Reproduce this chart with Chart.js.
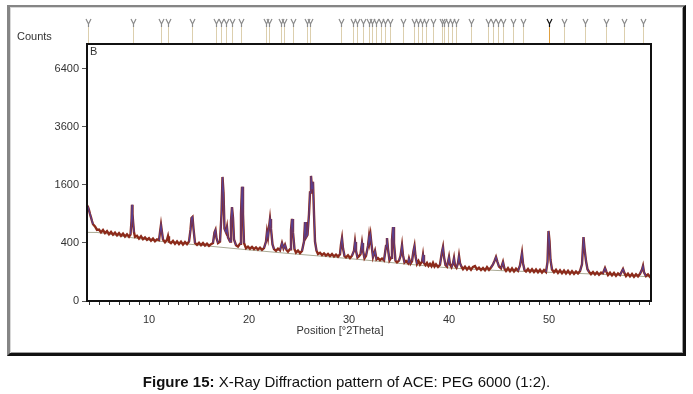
<!DOCTYPE html>
<html>
<head>
<meta charset="utf-8">
<script src="https://cdn.jsdelivr.net/npm/chart.js@4.4.1/dist/chart.umd.min.js"></script>
<style>
  body { margin: 0; background: #fff; font-family: "Liberation Sans", Arial, sans-serif; }
  #wrap { position: relative; width: 693px; height: 394px; overflow: hidden; }
  #frame { position: absolute; left: 7px; top: 5px; width: 673px; height: 346px;
    border-style: solid; border-width: 2px 3px 3px 3px;
    border-color: #858585 #111 #111 #858585;
    box-shadow: inset 1px 1px 0 #d8d8d8, inset -1px -1px 0 #a0a0a0; }
  canvas { position: absolute; left: 0; top: 0; }
  .lbl { position: absolute; font-size: 11px; line-height: 11px; color: #333; white-space: nowrap; }
  #caption { position: absolute; left: 0; top: 374px; width: 693px; text-align: center;
    font-size: 15px; line-height: 15px; color: #111; }
</style>
</head>
<body>
<div id="wrap">
  <div id="frame"></div>
  <canvas id="xrd" width="693" height="394"></canvas>
  <div class="lbl" style="left:17px; top:31px;">Counts</div>
  <div class="lbl" style="left:90px; top:46px;">B</div>
  <div class="lbl" style="left:240px; top:325px; width:200px; text-align:center;">Position [°2Theta]</div>
  <div id="caption"><b>Figure 15:</b> X-Ray Diffraction pattern of ACE: PEG 6000 (1:2).</div>
</div>
<script>
// axis ticks
const yTicks = [0, 400, 1600, 3600, 6400];
const xLabels = [10, 20, 30, 40, 50];

// reference peak positions (°2Theta) shown as markers above the plot
const peakMarks = [3.9, 8.4, 11.2, 11.9, 14.3, 16.7, 17.2, 17.7, 18.3, 19.2, 21.7, 22.0,
  23.2, 23.5, 24.4, 25.8, 26.1, 29.2, 30.4, 30.8, 31.4, 32.0, 32.3, 32.7, 33.2, 33.6,
  34.1, 35.4, 36.5, 36.9, 37.3, 37.7, 38.4, 39.3, 39.5, 39.9, 40.3, 40.7, 42.2, 43.9,
  44.4, 44.9, 45.4, 46.4, 47.4, 50.0, 51.5, 53.6, 55.7, 57.5, 59.4];
const darkMark = 50.0;

// measured pattern [2theta, counts]
const observed = [
  [3.8,1090],[3.9,1050],[4.0,980],[4.1,900],[4.2,830],[4.3,760],[4.4,700],[4.6,660],[4.8,600],
  [5.0,605],[5.2,560],[5.4,598],[5.6,548],[5.8,580],[6.0,530],[6.2,566],[6.4,522],[6.6,556],
  [6.8,512],[7.0,548],[7.2,505],[7.4,540],[7.6,495],[7.8,530],[8.0,492],[8.15,525],[8.25,760],
  [8.3,1100],[8.35,900],[8.42,720],[8.5,560],[8.6,490],[8.8,505],[9.0,462],[9.2,498],[9.4,455],
  [9.6,480],[9.8,446],[10.0,470],[10.2,432],[10.4,462],[10.6,425],[10.8,450],[11.0,440],
  [11.1,560],[11.2,690],[11.3,560],[11.4,450],[11.6,410],[11.8,446],[11.9,500],[12.0,420],
  [12.2,398],[12.4,428],[12.6,390],[12.8,422],[13.0,385],[13.2,418],[13.4,380],[13.6,412],
  [13.8,384],[14.0,420],[14.15,600],[14.25,820],[14.35,840],[14.45,620],[14.6,400],[14.8,375],
  [15.0,402],[15.2,370],[15.4,398],[15.6,366],[15.8,390],[16.0,362],[16.2,384],[16.4,400],
  [16.55,560],[16.65,600],[16.75,470],[16.9,400],[17.1,420],[17.25,900],[17.35,1830],[17.45,1400],
  [17.55,620],[17.7,560],[17.8,650],[17.9,480],[18.1,420],[18.2,760],[18.3,1050],[18.4,820],
  [18.5,450],[18.7,370],[18.9,352],[19.1,390],[19.2,900],[19.3,1550],[19.4,900],[19.5,400],
  [19.7,330],[19.9,352],[20.1,325],[20.3,348],[20.5,320],[20.7,342],[20.9,315],[21.1,338],
  [21.3,312],[21.5,332],[21.7,420],[21.8,570],[21.9,480],[22.0,640],[22.1,800],[22.2,620],
  [22.35,380],[22.5,320],[22.7,300],[22.9,326],[23.1,305],[23.3,400],[23.45,330],[23.6,375],
  [23.75,310],[23.9,290],[24.1,318],[24.2,600],[24.3,800],[24.4,560],[24.55,320],[24.7,278],
  [24.9,302],[25.1,272],[25.3,298],[25.5,420],[25.6,740],[25.7,480],[25.85,520],[26.0,900],
  [26.1,1400],[26.2,1860],[26.3,1500],[26.4,1690],[26.5,900],[26.6,420],[26.75,300],[26.9,262],
  [27.1,276],[27.3,250],[27.5,270],[27.7,245],[27.9,264],[28.1,240],[28.3,262],[28.5,236],
  [28.7,256],[28.9,234],[29.1,260],[29.2,380],[29.3,470],[29.4,330],[29.55,240],[29.7,226],
  [29.9,248],[30.1,220],[30.3,244],[30.5,300],[30.6,415],[30.7,300],[30.85,226],[31.0,240],
  [31.15,260],[31.3,400],[31.4,300],[31.55,218],[31.7,244],[31.9,360],[32.0,490],[32.05,420],
  [32.15,520],[32.25,380],[32.4,230],[32.6,300],[32.75,205],[32.9,218],[33.1,198],[33.3,214],
  [33.5,196],[33.7,360],[33.8,470],[33.9,320],[34.05,196],[34.2,222],[34.3,440],[34.4,650],
  [34.5,400],[34.65,192],[34.8,178],[35.0,194],[35.15,240],[35.3,370],[35.4,250],[35.55,176],
  [35.7,190],[35.9,170],[36.0,215],[36.15,166],[36.3,188],[36.45,300],[36.55,360],[36.65,240],
  [36.8,164],[36.95,190],[37.1,158],[37.3,184],[37.4,252],[37.5,170],[37.65,152],[37.8,172],
  [37.95,146],[38.1,164],[38.25,144],[38.4,174],[38.55,142],[38.7,160],[38.9,138],[39.1,156],
  [39.3,290],[39.4,347],[39.5,230],[39.65,152],[39.8,140],[39.9,180],[40.0,230],[40.1,160],
  [40.25,136],[40.4,170],[40.5,220],[40.6,150],[40.75,132],[40.9,170],[41.0,241],[41.1,170],
  [41.25,140],[41.4,120],[41.6,140],[41.8,118],[42.0,136],[42.2,116],[42.4,138],[42.6,145],
  [42.8,118],[43.0,132],[43.2,114],[43.4,130],[43.6,112],[43.8,136],[44.0,116],[44.2,134],
  [44.4,160],[44.55,190],[44.7,230],[44.85,180],[45.0,140],[45.2,126],[45.4,181],[45.55,124],
  [45.7,108],[45.9,128],[46.1,106],[46.3,126],[46.5,104],[46.7,124],[46.9,108],[47.1,150],
  [47.2,205],[47.3,274],[47.4,170],[47.55,114],[47.7,104],[47.9,122],[48.1,102],[48.3,120],
  [48.5,100],[48.7,118],[48.9,98],[49.1,116],[49.3,96],[49.5,114],[49.7,100],[49.85,180],
  [49.95,583],[50.05,430],[50.15,200],[50.3,118],[50.5,98],[50.7,116],[50.9,94],[51.1,112],
  [51.3,92],[51.5,110],[51.7,90],[51.9,108],[52.1,88],[52.3,106],[52.5,88],[52.7,104],
  [52.9,90],[53.1,106],[53.3,160],[53.45,487],[53.55,330],[53.7,190],[53.85,120],[54.0,102],
  [54.2,86],[54.4,100],[54.6,84],[54.8,98],[55.0,82],[55.2,96],[55.4,92],[55.6,129],[55.75,100],
  [55.9,80],[56.1,95],[56.3,78],[56.5,93],[56.7,76],[56.9,91],[57.1,80],[57.4,122],[57.55,92],
  [57.7,74],[57.9,89],[58.1,72],[58.3,87],[58.5,70],[58.7,85],[58.9,72],[59.1,88],[59.3,118],
  [59.4,146],[59.5,98],[59.7,74],[59.9,84],[60.1,70],[60.2,78]
];

// fitted background [2theta, counts]
const background = [
  [3.8,560],[4.8,558],[5.5,545],[7,505],[10,440],[13,398],[16,358],[20,310],[24,268],
  [28,232],[32,196],[36,160],[40,130],[45,110],[50,98],[55,85],[60,70]
];

function bgAt(t) {
  for (let i = 1; i < background.length; i++) {
    const [x0, y0] = background[i - 1], [x1, y1] = background[i];
    if (t <= x1) return y0 + (y1 - y0) * (t - x0) / (x1 - x0);
  }
  return background[background.length - 1][1];
}

// square-root count axis, like the diffractometer software
class SqrtScale extends Chart.LinearScale {
  static id = 'sqrt';
  static defaults = {};
  buildTicks() { return yTicks.map(v => ({ value: v })); }
  getPixelForValue(v) {
    const lo = Math.sqrt(this.min), hi = Math.sqrt(this.max);
    return this.getPixelForDecimal((Math.sqrt(Math.max(v, 0)) - lo) / (hi - lo));
  }
  getValueForPixel(p) {
    const lo = Math.sqrt(this.min), hi = Math.sqrt(this.max);
    const s = lo + this.getDecimalForPixel(p) * (hi - lo);
    return s * s;
  }
}
Chart.register(SqrtScale);

const decor = {
  id: 'decor',
  afterDraw(chart) {
    const { ctx, chartArea: a, scales: { x } } = chart;
    ctx.save();
    // peak markers
    peakMarks.forEach(p => {
      const px = Math.round(x.getPixelForValue(p)) + 0.5;
      const dark = p === darkMark;
      ctx.strokeStyle = dark ? '#e0a040' : '#dccfae';
      ctx.lineWidth = 1;
      ctx.beginPath();
      ctx.moveTo(px, 25);
      ctx.lineTo(px, a.top);
      ctx.stroke();
      ctx.strokeStyle = dark ? '#111' : '#8a8a8a';
      ctx.lineWidth = 1.2;
      ctx.beginPath();
      ctx.moveTo(px - 2.5, 19);
      ctx.lineTo(px, 24);
      ctx.lineTo(px + 2.5, 19);
      ctx.moveTo(px, 24);
      ctx.lineTo(px, 27);
      ctx.stroke();
    });
    // plot frame
    ctx.strokeStyle = '#111';
    ctx.lineWidth = 2;
    ctx.strokeRect(a.left, a.top, a.right - a.left, a.bottom - a.top);
    ctx.restore();
  }
};

const xTickValues = [];
for (let t = 4; t <= 60; t++) xTickValues.push(t);

const pts = observed.map(([x, y]) => ({ x, y }));

new Chart(document.getElementById('xrd'), {
  type: 'line',
  data: {
    datasets: [
      {
        label: 'Background',
        data: background.map(([x, y]) => ({ x, y })),
        borderColor: '#a9a994',
        borderWidth: 1,
        pointRadius: 0,
        order: 2
      },
      {
        label: 'Observed',
        data: pts,
        borderColor: '#8c2a1a',
        borderWidth: 2.4,
        pointRadius: 0,
        order: 1
      },
      {
        label: 'Peaks',
        data: pts,
        borderColor: '#5a3f8e',
        borderWidth: 1.2,
        pointRadius: 0,
        order: 0,
        segment: {
          borderColor: c => {
            const xm = (c.p0.parsed.x + c.p1.parsed.x) / 2;
            const ym = Math.max(c.p0.parsed.y, c.p1.parsed.y);
            return ym > bgAt(xm) * 1.3 ? '#5a3f8e' : 'rgba(0,0,0,0)';
          }
        }
      }
    ]
  },
  options: {
    responsive: false,
    animation: false,
    events: [],
    layout: { padding: { left: 0, top: 44, right: 42, bottom: 0 } },
    plugins: { legend: { display: false }, tooltip: { enabled: false } },
    scales: {
      x: {
        type: 'linear',
        min: 3.8,
        max: 60.2,
        afterBuildTicks: s => { s.ticks = xTickValues.map(v => ({ value: v })); },
        afterFit: s => { s.height = 93; },
        grid: { display: true, drawOnChartArea: false, tickLength: 4, color: '#333' },
        border: { display: true, color: '#111', width: 2 },
        ticks: {
          autoSkip: false,
          maxRotation: 0,
          padding: 8,
          color: '#333',
          font: { family: 'Liberation Sans, Arial', size: 11 },
          callback: v => xLabels.includes(v) ? String(v) : ''
        }
      },
      y: {
        type: 'sqrt',
        min: 0,
        max: 7850,
        afterFit: s => { s.width = 87; },
        grid: { display: true, drawOnChartArea: false, tickLength: 5, color: '#555' },
        border: { display: true, color: '#111', width: 2 },
        ticks: {
          padding: 3,
          color: '#333',
          font: { family: 'Liberation Sans, Arial', size: 11 },
          callback: v => String(v)
        }
      }
    }
  },
  plugins: [decor]
});
</script>
</body>
</html>
